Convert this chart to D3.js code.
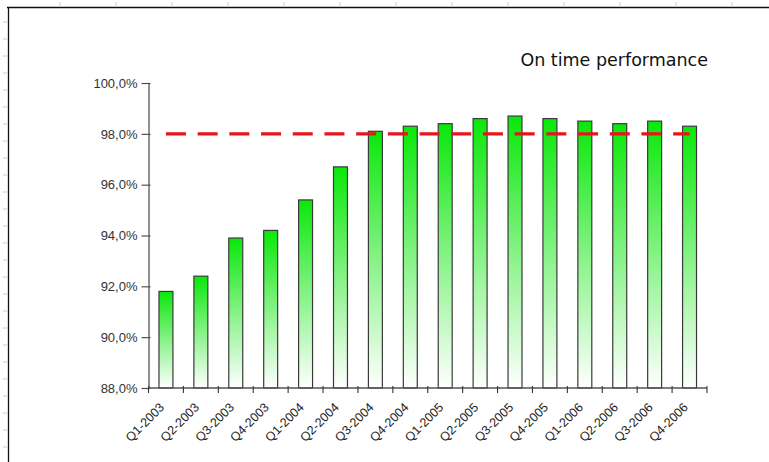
<!DOCTYPE html>
<html>
<head>
<meta charset="utf-8">
<script src="https://cdn.jsdelivr.net/npm/d3@7"></script>
<style>
  html, body { margin: 0; padding: 0; background: #fff; }
  svg { display: block; }
</style>
</head>
<body>
<svg id="chart" width="769" height="462"></svg>
<script>
const categories = ["Q1-2003","Q2-2003","Q3-2003","Q4-2003","Q1-2004","Q2-2004","Q3-2004","Q4-2004",
                    "Q1-2005","Q2-2005","Q3-2005","Q4-2005","Q1-2006","Q2-2006","Q3-2006","Q4-2006"];
const performance = [91.8, 92.4, 93.9, 94.2, 95.4, 96.7, 98.1, 98.3, 98.4, 98.6, 98.7, 98.6, 98.5, 98.4, 98.5, 98.3];
const targetValue = 98.0;
const yTicks = [88, 90, 92, 94, 96, 98, 100];
const title = "On time performance";

(function () {
const svg = d3.select("#chart");
const mLeft = 148.5, mRight = 707, mTop = 83, mBottom = 388;

// frame (spreadsheet-like border with faint ruler marks)
const frame = svg.append("g");
frame.append("line").attr("x1", 7).attr("x2", 769).attr("y1", 7.5).attr("y2", 7.5)
  .attr("stroke", "#111").attr("stroke-width", 1.3);
frame.append("line").attr("x1", 8.5).attr("x2", 8.5).attr("y1", 7).attr("y2", 462)
  .attr("stroke", "#111").attr("stroke-width", 1.3);
d3.range(60, 769, 56).forEach(xx => {
  frame.append("line").attr("x1", xx).attr("x2", xx).attr("y1", 2).attr("y2", 7)
    .attr("stroke", "#ccc");
});
d3.range(22, 462, 17).forEach(yy => {
  frame.append("line").attr("x1", 3).attr("x2", 8).attr("y1", yy).attr("y2", yy)
    .attr("stroke", "#ccc");
});

const x = d3.scaleBand().domain(categories).range([mLeft, mRight]).paddingInner(0).paddingOuter(0);
const y = d3.scaleLinear().domain([88, 100]).range([mBottom, mTop]);

// gradient
const defs = svg.append("defs");
const grad = defs.append("linearGradient").attr("id", "barGrad")
  .attr("x1", 0).attr("y1", 0).attr("x2", 0).attr("y2", 1);
grad.append("stop").attr("offset", "0%").attr("stop-color", "#0ae80a");
grad.append("stop").attr("offset", "40%").attr("stop-color", "#6df06d");
grad.append("stop").attr("offset", "100%").attr("stop-color", "#ffffff");

// bars
const bw = x.bandwidth() * 0.4;
svg.append("g").selectAll("rect").data(performance).join("rect")
  .attr("x", (d, i) => x(categories[i]) + (x.bandwidth() - bw) / 2)
  .attr("y", d => y(d))
  .attr("width", bw)
  .attr("height", d => y(88) - y(d))
  .attr("fill", "url(#barGrad)")
  .attr("stroke", "#3a3a3a")
  .attr("stroke-width", 1.2);

// target line
svg.append("line")
  .attr("x1", x(categories[0]) + x.bandwidth() / 2)
  .attr("x2", x(categories[categories.length - 1]) + x.bandwidth() / 2)
  .attr("y1", y(targetValue)).attr("y2", y(targetValue))
  .attr("stroke", "#e8141c").attr("stroke-width", 3.2)
  .attr("stroke-dasharray", "20,11.7");

// y axis
const yAxis = d3.axisLeft(y).tickValues(yTicks).tickSizeInner(7).tickSizeOuter(0)
  .tickFormat(d => d.toFixed(1).replace(".", ",") + "%");
const gy = svg.append("g").attr("transform", `translate(${mLeft},0)`).call(yAxis);
gy.select(".domain").attr("stroke", "#555").attr("stroke-width", 1.3);
gy.selectAll(".tick line").attr("stroke", "#444").attr("x2", -7).attr("x1", 2).attr("stroke-width", 1.1);
gy.selectAll(".tick text").attr("x", -11).attr("font-family", "Arial, 'Liberation Sans', sans-serif")
  .attr("font-size", 13).attr("fill", "#333");

// x axis
const gx = svg.append("g").attr("transform", `translate(0,${mBottom})`);
gx.append("line").attr("x1", mLeft).attr("x2", mRight).attr("y1", 0).attr("y2", 0)
  .attr("stroke", "#555").attr("stroke-width", 1.3);
const boundaries = categories.map(c => x(c)).concat([mRight]);
gx.selectAll("line.t").data(boundaries).join("line").attr("class", "t")
  .attr("x1", d => d).attr("x2", d => d).attr("y1", -2).attr("y2", 5)
  .attr("stroke", "#333").attr("stroke-width", 1.1);
gx.selectAll("text").data(categories).join("text")
  .attr("transform", d => `translate(${x(d) + x.bandwidth() / 2 - 4},${17}) rotate(-45)`)
  .attr("text-anchor", "end")
  .attr("dy", "0.35em")
  .attr("font-family", "Arial, 'Liberation Sans', sans-serif")
  .attr("font-size", 12.5).attr("fill", "#222")
  .text(d => d);

// title
svg.append("text").attr("x", 708).attr("y", 66).attr("text-anchor", "end")
  .attr("font-family", "Verdana, 'DejaVu Sans', sans-serif").attr("font-size", 17.5)
  .attr("fill", "#111").text(title);
})();
</script>
</body>
</html>
